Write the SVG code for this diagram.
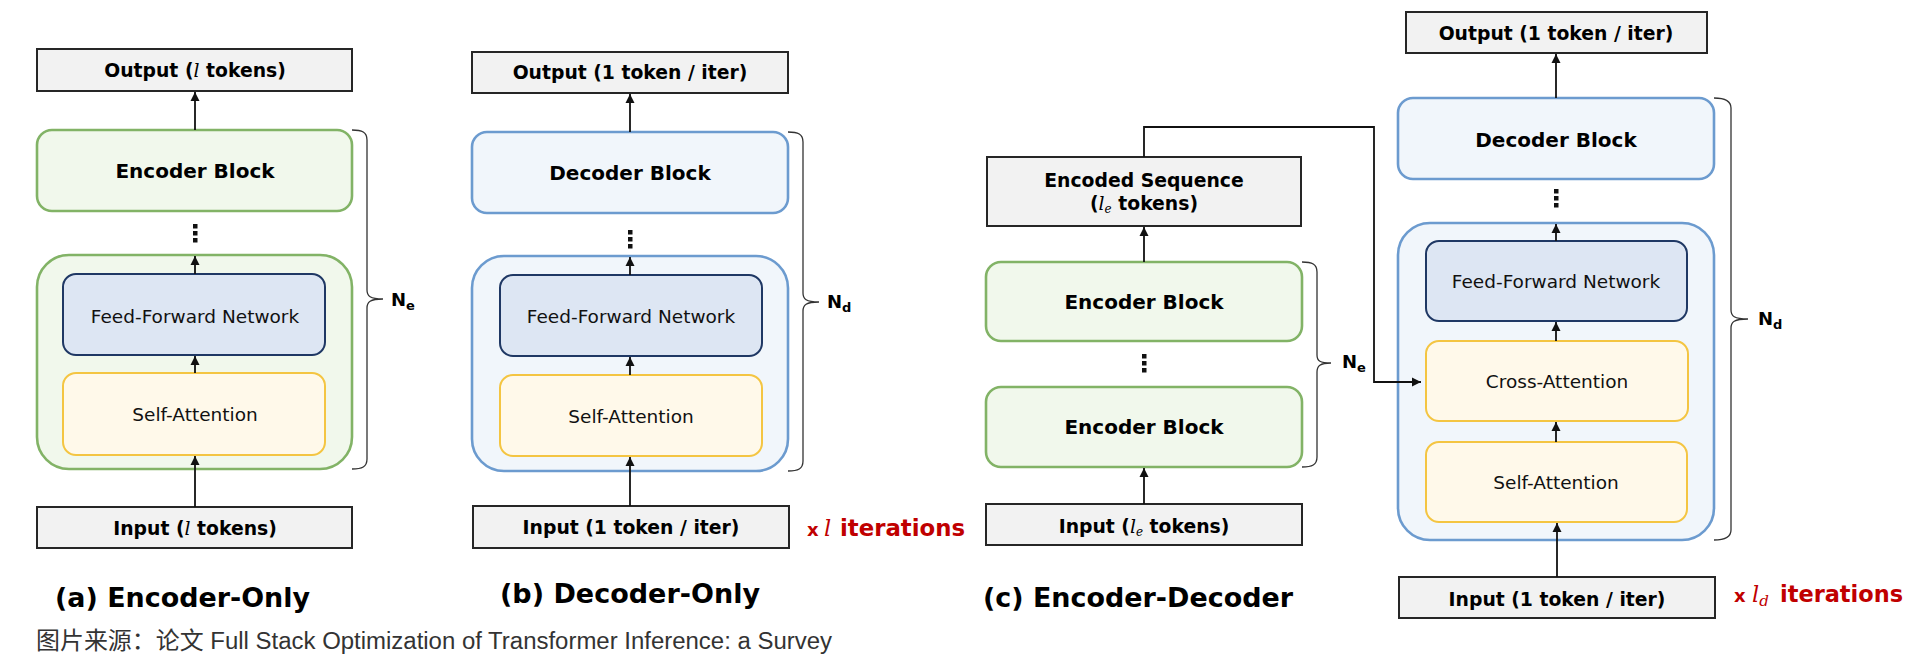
<svg xmlns="http://www.w3.org/2000/svg" width="1913" height="658" viewBox="0 0 1913 658">
<style>
.gray{fill:#f2f2f2;stroke:#262626;stroke-width:2}
.green{fill:#f1f8ec;stroke:#82b366;stroke-width:2.6}
.blue{fill:#f1f6fb;stroke:#6c9bcf;stroke-width:2.6}
.ffn{fill:#dde6f3;stroke:#1f3864;stroke-width:2}
.yel{fill:#fff9ea;stroke:#f4c542;stroke-width:2}
.bt{font-family:"DejaVu Sans",Verdana,sans-serif;font-weight:bold;font-size:18.8px;fill:#000;text-anchor:middle}
.bb{font-family:"DejaVu Sans",Verdana,sans-serif;font-weight:bold;font-size:20px;fill:#000;text-anchor:middle}
.rt{font-family:"DejaVu Sans",Verdana,sans-serif;font-size:18.5px;fill:#111;text-anchor:middle}
.m{font-family:"DejaVu Serif","Liberation Serif",serif;font-style:italic;font-weight:normal}
.ttl{font-family:"DejaVu Sans",Verdana,sans-serif;font-weight:bold;font-size:27px;fill:#000}
.red{font-family:"DejaVu Sans",Verdana,sans-serif;font-weight:bold;font-size:22.5px;fill:#c00000}
.nl{font-family:"DejaVu Sans",Verdana,sans-serif;font-weight:bold;font-size:18px;fill:#000}
.conn{stroke:#111;stroke-width:1.8;fill:none}
.brace{stroke:#333;stroke-width:1.3;fill:none}
.dot{fill:#111}
</style>
<defs>
<marker id="arr" markerUnits="userSpaceOnUse" markerWidth="10" markerHeight="10" refX="9" refY="5" orient="auto">
<path d="M0,0.5 L9,5 L0,9.5 z" fill="#111"/>
</marker>
</defs>

<!-- Panel (a) -->
<g id="a-output"><rect class="gray" x="37" y="49" width="315" height="42"/><text class="bt" x="195" y="77">Output (<tspan class="m">l</tspan> tokens)</text></g>
<g id="a-encoder-block"><rect class="green" x="37" y="130" width="315" height="81" rx="15"/><text class="bb" x="195" y="178">Encoder Block</text></g>
<g id="a-dots"><rect class="dot" x="193" y="224" width="4.5" height="4.5"/><rect class="dot" x="193" y="231" width="4.5" height="4.5"/><rect class="dot" x="193" y="238" width="4.5" height="4.5"/></g>
<g id="a-encoder-outer"><rect class="green" x="37" y="255" width="315" height="214" rx="32"/></g>
<g id="a-ffn"><rect class="ffn" x="63" y="274" width="262" height="81" rx="13"/><text class="rt" x="195" y="323">Feed-Forward Network</text></g>
<g id="a-self-attention"><rect class="yel" x="63" y="373" width="262" height="82" rx="13"/><text class="rt" x="195" y="421">Self-Attention</text></g>
<g id="a-input"><rect class="gray" x="37" y="507" width="315" height="41"/><text class="bt" x="195" y="535">Input (<tspan class="m">l</tspan> tokens)</text></g>
<g id="a-ne"><path class="brace" d="M352,130 C362,130 367,132 367,140 L367,290 C367,296 370,299 383,299 C370,299 367,302 367,308 L367,459 C367,467 362,469 352,469"/><text class="nl" x="391" y="306">N<tspan font-size="13" dy="4">e</tspan></text></g>
<g id="a-title"><text class="ttl" x="55" y="607" textLength="255" lengthAdjust="spacingAndGlyphs">(a) Encoder-Only</text></g>

<!-- Panel (b) -->
<g id="b-output"><rect class="gray" x="472" y="52" width="316" height="41"/><text class="bt" x="630" y="79">Output (1 token / iter)</text></g>
<g id="b-decoder-block"><rect class="blue" x="472" y="132" width="316" height="81" rx="15"/><text class="bb" x="630" y="180">Decoder Block</text></g>
<g id="b-dots"><rect class="dot" x="628" y="230" width="4.5" height="4.5"/><rect class="dot" x="628" y="237" width="4.5" height="4.5"/><rect class="dot" x="628" y="244" width="4.5" height="4.5"/></g>
<g id="b-decoder-outer"><rect class="blue" x="472" y="256" width="316" height="215" rx="32"/></g>
<g id="b-ffn"><rect class="ffn" x="500" y="275" width="262" height="81" rx="13"/><text class="rt" x="631" y="323">Feed-Forward Network</text></g>
<g id="b-self-attention"><rect class="yel" x="500" y="375" width="262" height="81" rx="13"/><text class="rt" x="631" y="423">Self-Attention</text></g>
<g id="b-input"><rect class="gray" x="473" y="506" width="316" height="42"/><text class="bt" x="631" y="534">Input (1 token / iter)</text></g>
<g id="b-nd"><path class="brace" d="M788,132 C798,132 803,134 803,142 L803,293 C803,299 806,302 819,302 C806,302 803,305 803,311 L803,461 C803,469 798,471 788,471"/><text class="nl" x="827" y="308">N<tspan font-size="13" dy="4">d</tspan></text></g>
<g id="b-iter"><text class="red" y="536"><tspan x="807" font-size="18">x</tspan><tspan class="m" x="824" font-weight="bold">l</tspan><tspan x="840" textLength="125" lengthAdjust="spacingAndGlyphs">iterations</tspan></text></g>
<g id="b-title"><text class="ttl" x="500" y="603" textLength="260" lengthAdjust="spacingAndGlyphs">(b) Decoder-Only</text></g>

<!-- Panel (c) encoder -->
<g id="c-encoded"><rect class="gray" x="987" y="157" width="314" height="69"/><text class="bt" x="1144" y="187">Encoded Sequence</text><text class="bt" x="1144" y="210">(<tspan class="m">l</tspan><tspan class="m" font-size="12" dy="3">e</tspan><tspan dy="-3"> tokens)</tspan></text></g>
<g id="c-encoder-block-1"><rect class="green" x="986" y="262" width="316" height="79" rx="15"/><text class="bb" x="1144" y="309">Encoder Block</text></g>
<g id="c-enc-dots"><rect class="dot" x="1142" y="354" width="4.5" height="4.5"/><rect class="dot" x="1142" y="361" width="4.5" height="4.5"/><rect class="dot" x="1142" y="368" width="4.5" height="4.5"/></g>
<g id="c-encoder-block-2"><rect class="green" x="986" y="387" width="316" height="80" rx="15"/><text class="bb" x="1144" y="434">Encoder Block</text></g>
<g id="c-enc-input"><rect class="gray" x="986" y="504" width="316" height="41"/><text class="bt" x="1144" y="533">Input (<tspan class="m">l</tspan><tspan class="m" font-size="12" dy="3">e</tspan><tspan dy="-3"> tokens)</tspan></text></g>
<g id="c-ne"><path class="brace" d="M1302,262 C1312,262 1317,264 1317,272 L1317,355 C1317,361 1320,363 1331,363 C1320,363 1317,366 1317,372 L1317,457 C1317,465 1312,467 1302,467"/><text class="nl" x="1342" y="368">N<tspan font-size="13" dy="4">e</tspan></text></g>
<g id="c-title"><text class="ttl" x="983" y="607" textLength="310" lengthAdjust="spacingAndGlyphs">(c) Encoder-Decoder</text></g>

<!-- Panel (c) decoder -->
<g id="c-output"><rect class="gray" x="1406" y="12" width="301" height="41"/><text class="bt" x="1556" y="40">Output (1 token / iter)</text></g>
<g id="c-decoder-block"><rect class="blue" x="1398" y="98" width="316" height="81" rx="15"/><text class="bb" x="1556" y="147">Decoder Block</text></g>
<g id="c-dec-dots"><rect class="dot" x="1554" y="189" width="4.5" height="4.5"/><rect class="dot" x="1554" y="196" width="4.5" height="4.5"/><rect class="dot" x="1554" y="203" width="4.5" height="4.5"/></g>
<g id="c-decoder-outer"><rect class="blue" x="1398" y="223" width="316" height="317" rx="32"/></g>
<g id="c-ffn"><rect class="ffn" x="1426" y="241" width="261" height="80" rx="13"/><text class="rt" x="1556" y="288">Feed-Forward Network</text></g>
<g id="c-cross-attention"><rect class="yel" x="1426" y="341" width="262" height="80" rx="13"/><text class="rt" x="1557" y="388">Cross-Attention</text></g>
<g id="c-self-attention"><rect class="yel" x="1426" y="442" width="261" height="80" rx="13"/><text class="rt" x="1556" y="489">Self-Attention</text></g>
<g id="c-dec-input"><rect class="gray" x="1399" y="577" width="316" height="41"/><text class="bt" x="1557" y="606">Input (1 token / iter)</text></g>
<g id="c-nd"><path class="brace" d="M1714,98 C1724,98 1731,100 1731,108 L1731,310 C1731,316 1734,319 1748,319 C1734,319 1731,322 1731,328 L1731,530 C1731,538 1724,540 1714,540"/><text class="nl" x="1758" y="325">N<tspan font-size="13" dy="4">d</tspan></text></g>
<g id="c-iter"><text class="red" y="602"><tspan x="1734" font-size="18">x</tspan><tspan class="m" x="1752" font-weight="bold">l</tspan><tspan class="m" font-size="15" dy="4">d</tspan><tspan x="1780" dy="-4" textLength="123" lengthAdjust="spacingAndGlyphs">iterations</tspan></text></g>

<!-- caption -->
<g id="caption"><text x="36" y="649" font-family="'Liberation Sans','Noto Sans CJK SC',sans-serif" font-size="23.5" fill="#333" textLength="796" lengthAdjust="spacingAndGlyphs">图片来源：论文 Full Stack Optimization of Transformer Inference: a Survey</text></g>

<!-- connectors -->
<g id="connectors">
<line class="conn" x1="195" y1="130" x2="195" y2="92" marker-end="url(#arr)"/>
<line class="conn" x1="195" y1="274" x2="195" y2="256" marker-end="url(#arr)"/>
<line class="conn" x1="195" y1="373" x2="195" y2="356" marker-end="url(#arr)"/>
<line class="conn" x1="195" y1="507" x2="195" y2="456" marker-end="url(#arr)"/>
<line class="conn" x1="630" y1="132" x2="630" y2="94" marker-end="url(#arr)"/>
<line class="conn" x1="630" y1="275" x2="630" y2="257" marker-end="url(#arr)"/>
<line class="conn" x1="630" y1="375" x2="630" y2="357" marker-end="url(#arr)"/>
<line class="conn" x1="630" y1="506" x2="630" y2="457" marker-end="url(#arr)"/>
<line class="conn" x1="1144" y1="262" x2="1144" y2="227" marker-end="url(#arr)"/>
<line class="conn" x1="1144" y1="504" x2="1144" y2="468" marker-end="url(#arr)"/>
<path class="conn" d="M1144,157 V127 H1374 V382 H1421" marker-end="url(#arr)"/>
<line class="conn" x1="1556" y1="98" x2="1556" y2="54" marker-end="url(#arr)"/>
<line class="conn" x1="1556" y1="241" x2="1556" y2="224" marker-end="url(#arr)"/>
<line class="conn" x1="1556" y1="341" x2="1556" y2="322" marker-end="url(#arr)"/>
<line class="conn" x1="1556" y1="442" x2="1556" y2="422" marker-end="url(#arr)"/>
<line class="conn" x1="1557" y1="577" x2="1557" y2="523" marker-end="url(#arr)"/>
</g>
</svg>
